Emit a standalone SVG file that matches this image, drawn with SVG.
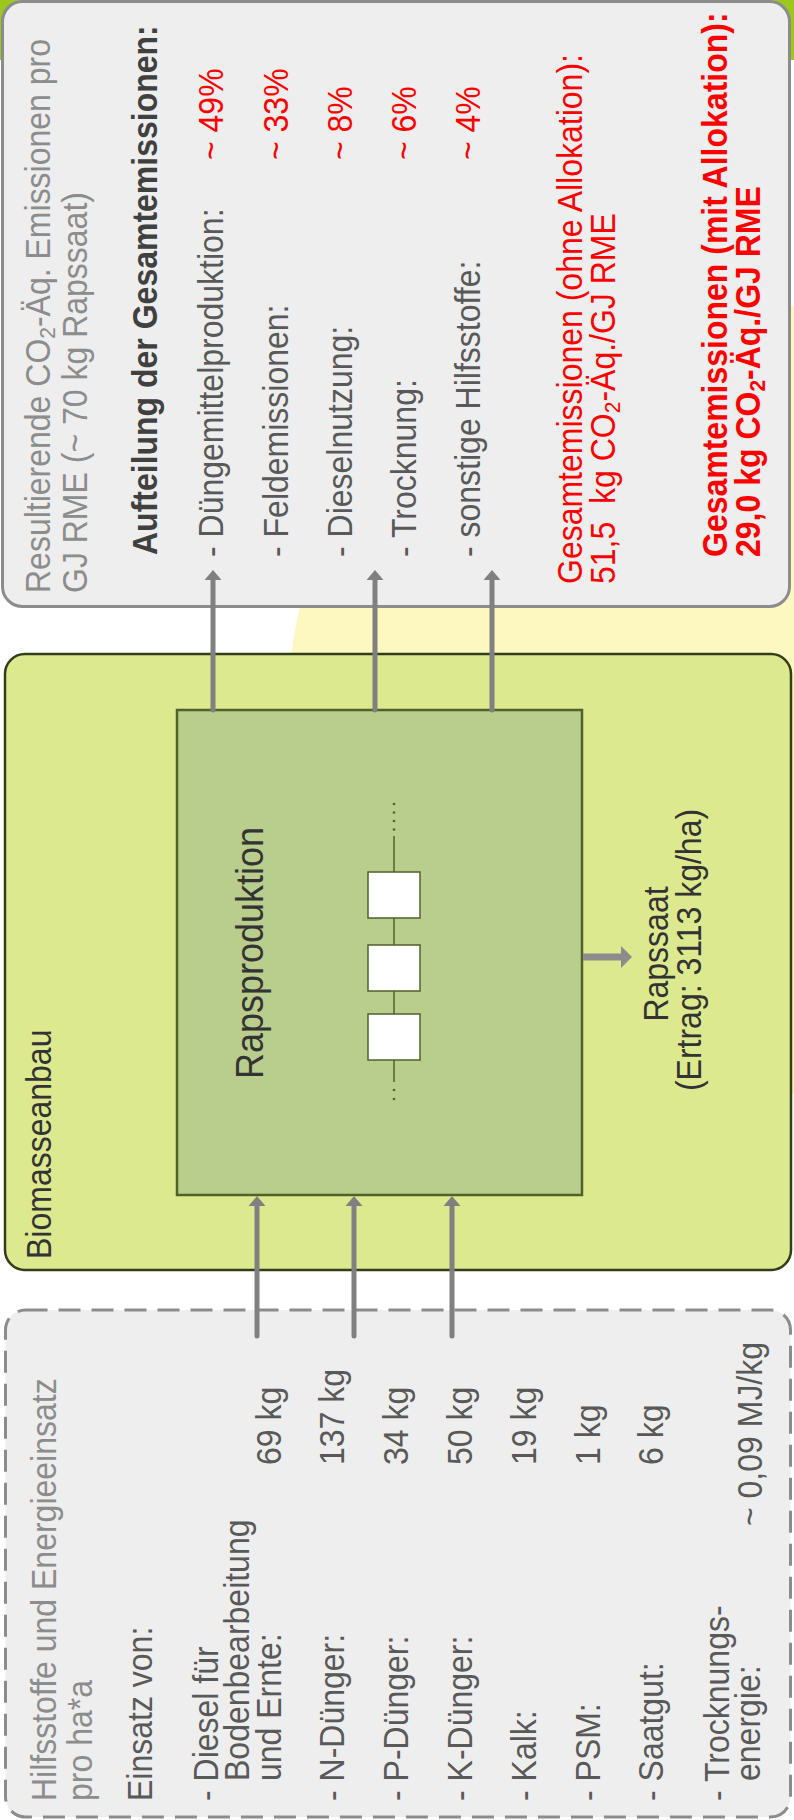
<svg xmlns="http://www.w3.org/2000/svg" width="794" height="1820" viewBox="0 0 794 1820">
<style>
text{font-family:"Liberation Sans",Arial,sans-serif;font-size:32px}
.lg{fill:#8c8c8c}
.dg{fill:#595959}
.bk{fill:#333333}
.bd{font-weight:bold}
.red{fill:#ff0000}
.sub{font-size:21px}
.arr{stroke:#808080;stroke-width:5;stroke-linecap:round;fill:none}
.head{fill:#808080}
.chain{stroke:#4f6228;stroke-width:1.5;fill:none}
.dot{fill:#4f6228}
</style>
<rect x="0" y="0" width="794" height="60" fill="#9dc71f"/>
<circle cx="695" cy="700" r="406" fill="#fdf7c0"/>

<g id="emissionen">
<rect x="2.5" y="1.5" width="787" height="605" rx="20" fill="#eeeeee" stroke="#8c8c8c" stroke-width="3"/>
<text class="lg" transform="translate(50,593) rotate(-90) scale(1,1.08)">Resultierende CO<tspan class="sub" dy="5">2</tspan><tspan dy="-5">-Äq. Emissionen pro</tspan><tspan x="0" y="34.5">GJ RME (~ 70 kg Rapssaat)</tspan></text>
<text class="bd" fill="#404040" transform="translate(157,555) rotate(-90) scale(1,1.08)">Aufteilung der Gesamtemissionen:</text>
<text class="dg" transform="translate(223,557) rotate(-90) scale(1,1.08)">- Düngemittelproduktion:</text>
<text class="dg" transform="translate(288,557) rotate(-90) scale(1,1.08)">- Feldemissionen:</text>
<text class="dg" transform="translate(352,557) rotate(-90) scale(1,1.08)">- Dieselnutzung:</text>
<text class="dg" transform="translate(416,557) rotate(-90) scale(1,1.08)">- Trocknung:</text>
<text class="dg" transform="translate(480,557) rotate(-90) scale(1,1.08)">- sonstige Hilfsstoffe:</text>
<text class="red" transform="translate(223,160) rotate(-90) scale(1,1.08)">~ 49%</text>
<text class="red" transform="translate(288,160) rotate(-90) scale(1,1.08)">~ 33%</text>
<text class="red" transform="translate(352,160) rotate(-90) scale(1,1.08)">~ 8%</text>
<text class="red" transform="translate(416,160) rotate(-90) scale(1,1.08)">~ 6%</text>
<text class="red" transform="translate(480,160) rotate(-90) scale(1,1.08)">~ 4%</text>
<text class="red" transform="translate(582,584) rotate(-90) scale(1,1.08)">Gesamtemissionen (ohne Allokation):<tspan x="0" y="30.5">51,5&#160; kg CO</tspan><tspan class="sub" dy="5">2</tspan><tspan dy="-5">-Äq./GJ RME</tspan></text>
<text class="red bd" transform="translate(727,557) rotate(-90) scale(1,1.08)">Gesamtemissionen (mit Allokation):<tspan x="0" y="30.5">29,0 kg CO</tspan><tspan class="sub" dy="5">2</tspan><tspan dy="-5">-Äq./GJ RME</tspan></text>
</g>

<g id="biomasseanbau">
<rect x="5" y="654" width="786" height="616" rx="20" fill="#dde98f" stroke="#333d1a" stroke-width="2.5"/>
<text class="bk" transform="translate(51,1259) rotate(-90) scale(1,1.08)">Biomasseanbau</text>
<text class="bk" text-anchor="middle" transform="translate(668,954) rotate(-90) scale(1,1.08)">Rapssaat</text>
<text class="bk" text-anchor="middle" transform="translate(701,950) rotate(-90) scale(1,1.08)">(Ertrag: 3113 kg/ha)</text>
</g>

<g id="rapsproduktion">
<rect x="177" y="710" width="405" height="485" fill="#b9cd8d" stroke="#4f6228" stroke-width="2.5"/>
<text class="bk" style="font-size:36px" transform="translate(263,1079) rotate(-90) scale(1,1.08)">Rapsproduktion</text>
<line class="chain" x1="394" y1="836" x2="394" y2="1082"/>
<circle class="dot" cx="394" cy="804" r="1.3"/>
<circle class="dot" cx="394" cy="812.5" r="1.3"/>
<circle class="dot" cx="394" cy="821" r="1.3"/>
<circle class="dot" cx="394" cy="829.5" r="1.3"/>
<circle class="dot" cx="394" cy="1090" r="1.3"/>
<circle class="dot" cx="394" cy="1099" r="1.3"/>
<rect x="368" y="872" width="52" height="46" fill="#ffffff" stroke="#4f6228" stroke-width="1.5"/>
<rect x="368" y="945" width="52" height="46" fill="#ffffff" stroke="#4f6228" stroke-width="1.5"/>
<rect x="368" y="1014" width="52" height="46" fill="#ffffff" stroke="#4f6228" stroke-width="1.5"/>
</g>

<g id="hilfsstoffe">
<rect x="5.5" y="1310" width="785" height="507" rx="20" fill="#eeeeee" stroke="#8c8c8c" stroke-width="3" stroke-dasharray="22 11"/>
<text class="lg" transform="translate(56,1801) rotate(-90) scale(1,1.08)">Hilfsstoffe und Energieeinsatz<tspan x="0" y="33.5">pro ha*a</tspan></text>
<text class="dg" transform="translate(152,1801) rotate(-90) scale(1,1.08)">Einsatz von:</text>
<text class="dg" transform="translate(218,1801) rotate(-90) scale(1,1.08)">- Diesel für</text>
<text class="dg" transform="translate(249,1781) rotate(-90) scale(1,1.08)">Bodenbearbeitung</text>
<text class="dg" transform="translate(281,1781) rotate(-90) scale(1,1.08)">und Ernte:</text>
<text class="dg" transform="translate(344,1801) rotate(-90) scale(1,1.08)">- N-Dünger:</text>
<text class="dg" transform="translate(408,1801) rotate(-90) scale(1,1.08)">- P-Dünger:</text>
<text class="dg" transform="translate(472,1801) rotate(-90) scale(1,1.08)">- K-Dünger:</text>
<text class="dg" transform="translate(536,1801) rotate(-90) scale(1,1.08)">- Kalk:</text>
<text class="dg" transform="translate(600,1801) rotate(-90) scale(1,1.08)">- PSM:</text>
<text class="dg" transform="translate(663,1801) rotate(-90) scale(1,1.08)">- Saatgut:</text>
<text class="dg" transform="translate(729,1801) rotate(-90) scale(1,1.08)">- Trocknungs-</text>
<text class="dg" transform="translate(760,1781) rotate(-90) scale(1,1.08)">energie:</text>
<text class="dg" transform="translate(281,1465) rotate(-90) scale(1,1.08)">69 kg</text>
<text class="dg" transform="translate(344,1465) rotate(-90) scale(1,1.08)">137 kg</text>
<text class="dg" transform="translate(408,1465) rotate(-90) scale(1,1.08)">34 kg</text>
<text class="dg" transform="translate(472,1465) rotate(-90) scale(1,1.08)">50 kg</text>
<text class="dg" transform="translate(536,1465) rotate(-90) scale(1,1.08)">19 kg</text>
<text class="dg" transform="translate(600,1465) rotate(-90) scale(1,1.08)">1 kg</text>
<text class="dg" transform="translate(663,1465) rotate(-90) scale(1,1.08)">6 kg</text>
<text class="dg" transform="translate(762,1526) rotate(-90) scale(1,1.08)">~ 0,09 MJ/kg</text>
</g>

<g id="connectors">
<line class="arr" x1="213" y1="710" x2="213" y2="578"/>
<polygon class="head" points="213,570 204.5,580 221.5,580"/>
<line class="arr" x1="375" y1="710" x2="375" y2="578"/>
<polygon class="head" points="375,570 366.5,580 383.5,580"/>
<line class="arr" x1="492" y1="710" x2="492" y2="578"/>
<polygon class="head" points="492,570 483.5,580 500.5,580"/>
<line class="arr" x1="257" y1="1336" x2="257" y2="1204"/>
<polygon class="head" points="257,1196 248.5,1206 265.5,1206"/>
<line class="arr" x1="354" y1="1336" x2="354" y2="1204"/>
<polygon class="head" points="354,1196 345.5,1206 362.5,1206"/>
<line class="arr" x1="452" y1="1336" x2="452" y2="1204"/>
<polygon class="head" points="452,1196 443.5,1206 460.5,1206"/>
<line x1="583" y1="957" x2="622" y2="957" stroke="#8c8c8c" stroke-width="7"/>
<polygon points="632,957 621,946 621,968" fill="#8c8c8c"/>
</g>
</svg>
